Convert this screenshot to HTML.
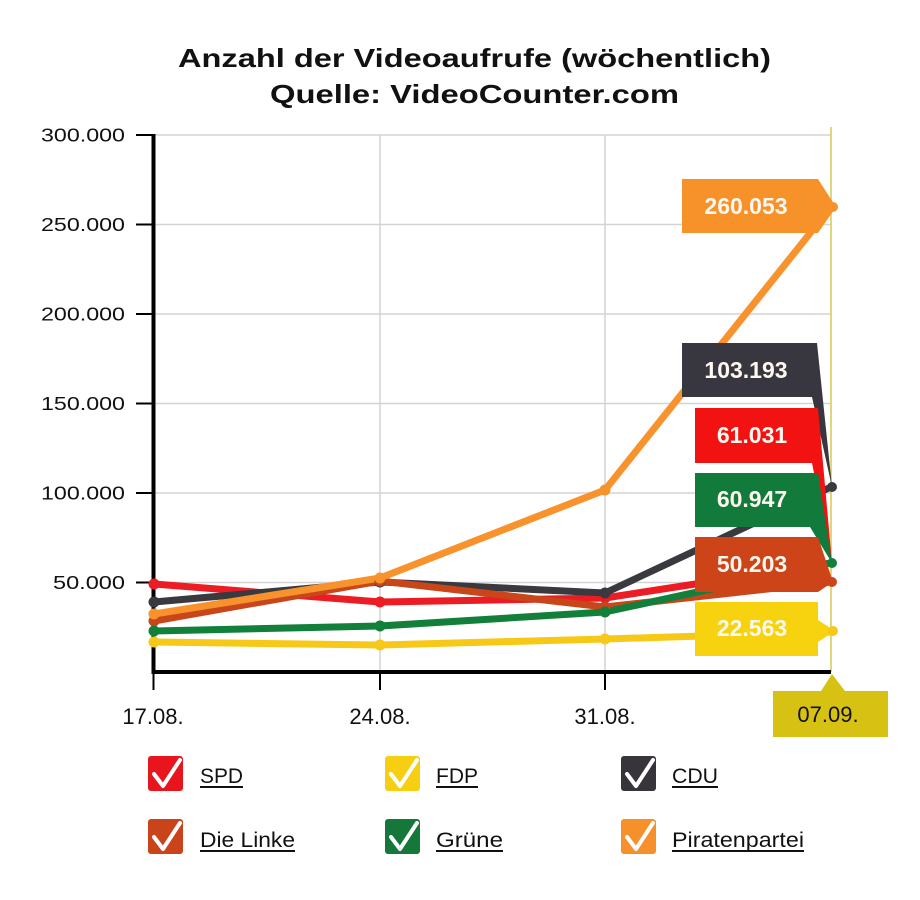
<!DOCTYPE html>
<html>
<head>
<meta charset="utf-8">
<style>
  html,body{margin:0;padding:0;background:#ffffff;}
  svg{display:block;}
  text{font-family:"Liberation Sans", Arial, sans-serif;}
</style>
</head>
<body>
<svg width="920" height="900" viewBox="0 0 920 900" xmlns="http://www.w3.org/2000/svg">
  <rect x="0" y="0" width="920" height="900" fill="#ffffff"/>

  <!-- Title -->
  <text x="178" y="67" font-size="26" font-weight="bold" fill="#111" textLength="593" lengthAdjust="spacingAndGlyphs">Anzahl der Videoaufrufe (wöchentlich)</text>
  <text x="270" y="103" font-size="26" font-weight="bold" fill="#111" textLength="409" lengthAdjust="spacingAndGlyphs">Quelle: VideoCounter.com</text>

  <!-- Gridlines -->
  <g stroke="#d4d4d4" stroke-width="1.5" fill="none">
    <line x1="154" y1="135" x2="831" y2="135"/>
    <line x1="154" y1="224.5" x2="831" y2="224.5"/>
    <line x1="154" y1="314" x2="831" y2="314"/>
    <line x1="154" y1="403.5" x2="831" y2="403.5"/>
    <line x1="154" y1="493" x2="831" y2="493"/>
    <line x1="154" y1="582.5" x2="831" y2="582.5"/>
    <line x1="380" y1="135" x2="380" y2="672"/>
    <line x1="605" y1="135" x2="605" y2="672"/>
  </g>

  <!-- crosshair -->
  <line x1="831" y1="127" x2="831" y2="672" stroke="#d8cc58" stroke-width="1.6"/>

  <!-- Y labels -->
  <g font-size="18" fill="#111" text-anchor="end">
    <text x="125" y="141.5" textLength="84" lengthAdjust="spacingAndGlyphs">300.000</text>
    <text x="125" y="231" textLength="84" lengthAdjust="spacingAndGlyphs">250.000</text>
    <text x="125" y="320.5" textLength="84" lengthAdjust="spacingAndGlyphs">200.000</text>
    <text x="125" y="410" textLength="84" lengthAdjust="spacingAndGlyphs">150.000</text>
    <text x="125" y="499.5" textLength="84" lengthAdjust="spacingAndGlyphs">100.000</text>
    <text x="125" y="589" textLength="72" lengthAdjust="spacingAndGlyphs">50.000</text>
  </g>
  <!-- Y ticks -->
  <g stroke="#000" stroke-width="2">
    <line x1="136" y1="135" x2="155" y2="135"/>
    <line x1="136" y1="224.5" x2="155" y2="224.5"/>
    <line x1="136" y1="314" x2="155" y2="314"/>
    <line x1="136" y1="403.5" x2="155" y2="403.5"/>
    <line x1="136" y1="493" x2="155" y2="493"/>
    <line x1="136" y1="582.5" x2="155" y2="582.5"/>
    <line x1="153.5" y1="672" x2="153.5" y2="690"/>
    <line x1="380" y1="672" x2="380" y2="690"/>
    <line x1="605" y1="672" x2="605" y2="690"/>
  </g>

  <!-- Axes -->
  <line x1="153.5" y1="134" x2="153.5" y2="674" stroke="#000" stroke-width="4"/>
  <line x1="152" y1="672" x2="831" y2="672" stroke="#000" stroke-width="4"/>

  <!-- X labels -->
  <g font-size="22" fill="#111" text-anchor="middle">
    <text x="153" y="724">17.08.</text>
    <text x="380" y="724">24.08.</text>
    <text x="605" y="724">31.08.</text>
  </g>

  <!-- Series lines -->
  <g fill="none" stroke-width="7" stroke-linejoin="round" stroke-linecap="round">
    <polyline stroke="#ec1c24" points="154,584 380,602 605,598 831,563"/>
    <polyline stroke="#f6c918" points="154,642 380,645 605,639 831,632"/>
    <polyline stroke="#3b3940" points="154,602 380,582 605,593 831,487"/>
    <polyline stroke="#c9461b" points="154,621 380,581 605,607 831,582"/>
    <polyline stroke="#12803a" points="154,631 380,626 605,612 831,563"/>
    <polyline stroke="#f7922d" points="154,614 380,578 605,490 831,207"/>
  </g>
  <!-- points -->
  <g>
    <circle cx="154" cy="584" r="5.5" fill="#ec1c24"/><circle cx="380" cy="602" r="5.5" fill="#ec1c24"/><circle cx="605" cy="598" r="5.5" fill="#ec1c24"/>
    <circle cx="154" cy="642" r="5.5" fill="#f6c918"/><circle cx="380" cy="645" r="5.5" fill="#f6c918"/><circle cx="605" cy="639" r="5.5" fill="#f6c918"/>
    <circle cx="154" cy="602" r="5.5" fill="#3b3940"/><circle cx="380" cy="582" r="5.5" fill="#3b3940"/><circle cx="605" cy="593" r="5.5" fill="#3b3940"/>
    <circle cx="154" cy="621" r="5.5" fill="#c9461b"/><circle cx="380" cy="581" r="5.5" fill="#c9461b"/><circle cx="605" cy="607" r="5.5" fill="#c9461b"/>
    <circle cx="154" cy="631" r="5.5" fill="#12803a"/><circle cx="380" cy="626" r="5.5" fill="#12803a"/><circle cx="605" cy="612" r="5.5" fill="#12803a"/>
    <circle cx="154" cy="614" r="5.5" fill="#f7922d"/><circle cx="380" cy="578" r="5.5" fill="#f7922d"/><circle cx="605" cy="490" r="5.5" fill="#f7922d"/>
  </g>

  <!-- Balloons -->
  <path d="M682,179 H818 L836,207 L818,233 H682 Z" fill="#f7922a"/>
  <path d="M682,343 H817 L832,487 L812,397 H682 Z" fill="#38363e"/>
  <path d="M695,408 H818 L832,563 L812,463 H695 Z" fill="#f21212"/>
  <path d="M695,473 H818 L832,563 L810,527 H695 Z" fill="#127a3a"/>
  <path d="M695,537 H818 L833,582 L818,592 H695 Z" fill="#cc4418"/>
  <path d="M695,602 H818 V620 L835,631 L818,642 V656 H695 Z" fill="#f6d20f"/>

  <!-- end points -->
  <circle cx="832" cy="487" r="5" fill="#3b3940"/>
  <circle cx="832" cy="563" r="5" fill="#12803a"/>
  <circle cx="832" cy="582" r="5" fill="#c9461b"/>
  <circle cx="833" cy="631" r="5" fill="#f6c918"/>
  <circle cx="833" cy="207" r="5" fill="#f7922d"/>

  <g font-size="23" font-weight="bold" fill="#fff8f0" text-anchor="middle">
    <text x="746" y="214">260.053</text>
    <text x="746" y="378">103.193</text>
    <text x="752" y="443">61.031</text>
    <text x="752" y="507">60.947</text>
    <text x="752" y="572">50.203</text>
    <text x="752" y="636">22.563</text>
  </g>

  <!-- 07.09 x label box -->
  <path d="M773,691 H821 L832,674 L845,691 H888 V737 H773 Z" fill="#d7c214"/>
  <text x="828" y="722" font-size="22" fill="#111" text-anchor="middle">07.09.</text>

  <!-- Legend -->
  <g>
    <rect x="148" y="756" width="35" height="35" rx="3" fill="#e8151c"/>
    <rect x="385" y="756" width="35" height="35" rx="3" fill="#f6cf12"/>
    <rect x="621" y="756" width="35" height="35" rx="3" fill="#37343c"/>
    <rect x="148" y="819" width="35" height="35" rx="3" fill="#c9441a"/>
    <rect x="385" y="819" width="35" height="35" rx="3" fill="#15783a"/>
    <rect x="621" y="819" width="35" height="35" rx="3" fill="#f6902a"/>
    <g fill="none" stroke="#fff" stroke-width="4" stroke-linecap="round" stroke-linejoin="round">
      <polyline points="154,774 163,786 180,760"/>
      <polyline points="391,774 400,786 417,760"/>
      <polyline points="627,774 636,786 653,760"/>
      <polyline points="154,837 163,849 180,823"/>
      <polyline points="391,837 400,849 417,823"/>
      <polyline points="627,837 636,849 653,823"/>
    </g>
  </g>
  <g font-size="21" fill="#111">
    <text x="200" y="783" textLength="43" lengthAdjust="spacingAndGlyphs">SPD</text>
    <text x="436" y="783" textLength="42" lengthAdjust="spacingAndGlyphs">FDP</text>
    <text x="672" y="783" textLength="46" lengthAdjust="spacingAndGlyphs">CDU</text>
    <text x="200" y="847" textLength="95" lengthAdjust="spacingAndGlyphs">Die Linke</text>
    <text x="436" y="847" textLength="67" lengthAdjust="spacingAndGlyphs">Grüne</text>
    <text x="672" y="847" textLength="132" lengthAdjust="spacingAndGlyphs">Piratenpartei</text>
  </g>
  <g stroke="#111" stroke-width="2">
    <line x1="200" y1="787" x2="243" y2="787"/>
    <line x1="436" y1="787" x2="478" y2="787"/>
    <line x1="672" y1="787" x2="718" y2="787"/>
    <line x1="200" y1="851" x2="295" y2="851"/>
    <line x1="436" y1="851" x2="503" y2="851"/>
    <line x1="672" y1="851" x2="804" y2="851"/>
  </g>
</svg>
</body>
</html>
